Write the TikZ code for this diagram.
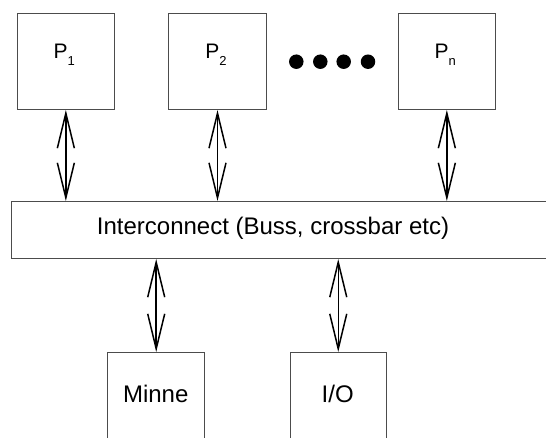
\documentclass[tikz,border=0pt]{standalone}
\usepackage{fontspec}
\setmainfont{Liberation Sans}
\usetikzlibrary{arrows.meta}
\newcommand{\psub}[2]{#1\raisebox{-7.5pt}{\fontsize{13}{13}\selectfont #2}}
\begin{document}
\begin{tikzpicture}[x=1pt,y=-1pt,
  box/.style={draw=black!70,line width=1pt,rectangle,inner sep=0pt,anchor=north west},
  lbl/.style={inner sep=0pt,font=\fontsize{24}{28}\selectfont},
  plbl/.style={inner sep=0pt,font=\fontsize{21}{25}\selectfont},
  dbl/.style={line width=1.5pt,{Straight Barb[length=35pt,width=17pt,line width=1.5pt]}-{Straight Barb[length=35pt,width=17pt,line width=1.5pt]}},
  dot/.style={circle,fill=black,inner sep=0pt,minimum size=14.5pt}]
\useasboundingbox (0,0) rectangle (546,437);
\clip (0,0) rectangle (546,437);
% processor boxes
\node[box,minimum width=97.3pt,minimum height=96pt] (p1) at (16.7,13) {};
\node[box,minimum width=98pt,minimum height=96pt] (p2) at (168,13) {};
\node[box,minimum width=96.7pt,minimum height=96pt] (pn) at (398,13) {};
\node[plbl] (t1) at (64.3,55) {\psub{P}{1}};
\node[plbl] (t2) at (216,55) {\psub{P}{2}};
\node[plbl] (tn) at (445.3,55) {\psub{P}{n}};
% dots
\node[dot] (d1) at (296.3,61.7) {};
\node[dot] (d2) at (320.3,61.7) {};
\node[dot] (d3) at (343.7,61.7) {};
\node[dot] (d4) at (368,61.7) {};
% interconnect
\node[box,minimum width=560pt,minimum height=57pt] (ic) at (11,201) {};
\node[lbl] (tic) at (273,228.5) {Interconnect (Buss, crossbar etc)};
% memory and io
\node[box,minimum width=97.4pt,minimum height=110pt] (mem) at (107,352) {};
\node[box,minimum width=96.1pt,minimum height=110pt] (io) at (289.7,352) {};
\node[lbl] (tmem) at (155.7,394) {Minne};
\node[lbl] (tio) at (337.7,394) {I/O};
% connectors
\draw[dbl] (p1.south) -- (p1.south |- ic.north);
\draw[dbl] (p2.south) -- (p2.south |- ic.north);
\draw[dbl] (pn.south) -- (pn.south |- ic.north);
\draw[dbl] (mem.north |- ic.south) -- (mem.north);
\draw[dbl] (io.north |- ic.south) -- (io.north);
\end{tikzpicture}
\end{document}
